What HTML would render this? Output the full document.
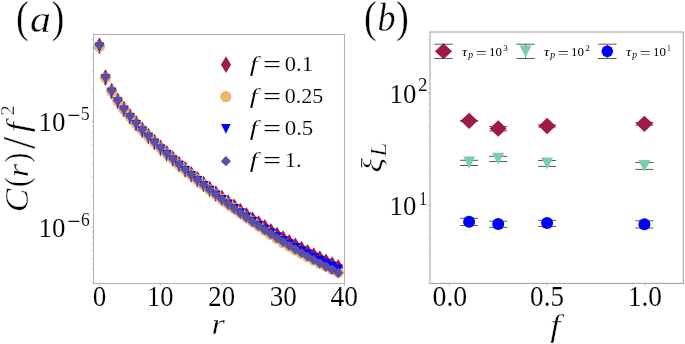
<!DOCTYPE html>
<html><head><meta charset="utf-8"><style>
html,body{margin:0;padding:0;background:#fff;}
svg{display:block;will-change:transform;}
text{font-family:"Liberation Serif",serif;fill:#000;stroke:#fff;stroke-width:0.12px;}
.i{font-style:italic;}
</style></head><body>
<svg width="685" height="344" viewBox="0 0 685 344">
<defs><clipPath id="ca"><rect x="93.5" y="34.5" width="251" height="249"/></clipPath>
<clipPath id="cb"><rect x="430.2" y="32" width="253" height="251.5"/></clipPath></defs>
<rect width="685" height="344" fill="#fff"/>
<!-- panel a -->
<g clip-path="url(#ca)"><path d="M99.40 37.40L104.50 45.80L99.40 54.20L94.30 45.80Z" fill="#9E1A4A"/><path d="M105.52 69.26L110.62 77.66L105.52 86.06L100.42 77.66Z" fill="#9E1A4A"/><path d="M111.65 82.66L116.75 91.06L111.65 99.46L106.55 91.06Z" fill="#9E1A4A"/><path d="M117.77 92.43L122.87 100.83L117.77 109.23L112.67 100.83Z" fill="#9E1A4A"/><path d="M123.90 100.70L129.00 109.10L123.90 117.50L118.80 109.10Z" fill="#9E1A4A"/><path d="M130.02 108.13L135.12 116.53L130.02 124.93L124.92 116.53Z" fill="#9E1A4A"/><path d="M136.14 115.01L141.24 123.41L136.14 131.81L131.04 123.41Z" fill="#9E1A4A"/><path d="M142.27 121.50L147.37 129.90L142.27 138.30L137.17 129.90Z" fill="#9E1A4A"/><path d="M148.39 127.70L153.49 136.10L148.39 144.50L143.29 136.10Z" fill="#9E1A4A"/><path d="M154.52 133.65L159.62 142.05L154.52 150.45L149.42 142.05Z" fill="#9E1A4A"/><path d="M160.64 139.41L165.74 147.81L160.64 156.21L155.54 147.81Z" fill="#9E1A4A"/><path d="M166.76 144.99L171.86 153.39L166.76 161.79L161.66 153.39Z" fill="#9E1A4A"/><path d="M172.89 150.43L177.99 158.83L172.89 167.23L167.79 158.83Z" fill="#9E1A4A"/><path d="M179.01 155.73L184.11 164.13L179.01 172.53L173.91 164.13Z" fill="#9E1A4A"/><path d="M185.14 160.90L190.24 169.30L185.14 177.70L180.04 169.30Z" fill="#9E1A4A"/><path d="M191.26 165.96L196.36 174.36L191.26 182.76L186.16 174.36Z" fill="#9E1A4A"/><path d="M197.38 170.92L202.48 179.32L197.38 187.72L192.28 179.32Z" fill="#9E1A4A"/><path d="M203.51 175.76L208.61 184.16L203.51 192.56L198.41 184.16Z" fill="#9E1A4A"/><path d="M209.63 180.51L214.73 188.91L209.63 197.31L204.53 188.91Z" fill="#9E1A4A"/><path d="M215.76 185.17L220.86 193.57L215.76 201.97L210.66 193.57Z" fill="#9E1A4A"/><path d="M221.88 189.72L226.98 198.12L221.88 206.52L216.78 198.12Z" fill="#9E1A4A"/><path d="M228.00 194.19L233.10 202.59L228.00 210.99L222.90 202.59Z" fill="#9E1A4A"/><path d="M234.13 198.57L239.23 206.97L234.13 215.37L229.03 206.97Z" fill="#9E1A4A"/><path d="M240.25 202.85L245.35 211.25L240.25 219.65L235.15 211.25Z" fill="#9E1A4A"/><path d="M246.38 207.05L251.48 215.45L246.38 223.85L241.28 215.45Z" fill="#9E1A4A"/><path d="M252.50 211.15L257.60 219.55L252.50 227.95L247.40 219.55Z" fill="#9E1A4A"/><path d="M258.62 215.17L263.72 223.57L258.62 231.97L253.52 223.57Z" fill="#9E1A4A"/><path d="M264.75 219.10L269.85 227.50L264.75 235.90L259.65 227.50Z" fill="#9E1A4A"/><path d="M270.87 222.94L275.97 231.34L270.87 239.74L265.77 231.34Z" fill="#9E1A4A"/><path d="M277.00 226.69L282.10 235.09L277.00 243.49L271.90 235.09Z" fill="#9E1A4A"/><path d="M283.12 230.35L288.22 238.75L283.12 247.15L278.02 238.75Z" fill="#9E1A4A"/><path d="M289.24 233.92L294.34 242.32L289.24 250.72L284.14 242.32Z" fill="#9E1A4A"/><path d="M295.37 237.39L300.47 245.79L295.37 254.19L290.27 245.79Z" fill="#9E1A4A"/><path d="M301.49 240.78L306.59 249.18L301.49 257.58L296.39 249.18Z" fill="#9E1A4A"/><path d="M307.62 244.07L312.72 252.47L307.62 260.87L302.52 252.47Z" fill="#9E1A4A"/><path d="M313.74 247.27L318.84 255.67L313.74 264.07L308.64 255.67Z" fill="#9E1A4A"/><path d="M319.86 250.37L324.96 258.77L319.86 267.17L314.76 258.77Z" fill="#9E1A4A"/><path d="M325.99 253.38L331.09 261.78L325.99 270.18L320.89 261.78Z" fill="#9E1A4A"/><path d="M332.11 256.29L337.21 264.69L332.11 273.09L327.01 264.69Z" fill="#9E1A4A"/><path d="M338.24 259.10L343.34 267.50L338.24 275.90L333.14 267.50Z" fill="#9E1A4A"/><circle cx="99.40" cy="46.50" r="5.60" fill="#EAB86C"/><circle cx="105.52" cy="77.77" r="5.60" fill="#EAB86C"/><circle cx="111.65" cy="91.17" r="5.60" fill="#EAB86C"/><circle cx="117.77" cy="100.94" r="5.60" fill="#EAB86C"/><circle cx="123.90" cy="109.21" r="5.60" fill="#EAB86C"/><circle cx="130.02" cy="116.64" r="5.60" fill="#EAB86C"/><circle cx="136.14" cy="123.52" r="5.60" fill="#EAB86C"/><circle cx="142.27" cy="130.02" r="5.60" fill="#EAB86C"/><circle cx="148.39" cy="136.21" r="5.60" fill="#EAB86C"/><circle cx="154.52" cy="142.17" r="5.60" fill="#EAB86C"/><circle cx="160.64" cy="147.92" r="5.60" fill="#EAB86C"/><circle cx="166.76" cy="153.58" r="5.60" fill="#EAB86C"/><circle cx="172.89" cy="159.09" r="5.60" fill="#EAB86C"/><circle cx="179.01" cy="164.46" r="5.60" fill="#EAB86C"/><circle cx="185.14" cy="169.71" r="5.60" fill="#EAB86C"/><circle cx="191.26" cy="174.84" r="5.60" fill="#EAB86C"/><circle cx="197.38" cy="179.91" r="5.60" fill="#EAB86C"/><circle cx="203.51" cy="184.87" r="5.60" fill="#EAB86C"/><circle cx="209.63" cy="189.73" r="5.60" fill="#EAB86C"/><circle cx="215.76" cy="194.50" r="5.60" fill="#EAB86C"/><circle cx="221.88" cy="199.17" r="5.60" fill="#EAB86C"/><circle cx="228.00" cy="203.83" r="5.60" fill="#EAB86C"/><circle cx="234.13" cy="208.40" r="5.60" fill="#EAB86C"/><circle cx="240.25" cy="212.87" r="5.60" fill="#EAB86C"/><circle cx="246.38" cy="217.26" r="5.60" fill="#EAB86C"/><circle cx="252.50" cy="221.55" r="5.60" fill="#EAB86C"/><circle cx="258.62" cy="225.96" r="5.60" fill="#EAB86C"/><circle cx="264.75" cy="230.27" r="5.60" fill="#EAB86C"/><circle cx="270.87" cy="234.50" r="5.60" fill="#EAB86C"/><circle cx="277.00" cy="238.63" r="5.60" fill="#EAB86C"/><circle cx="283.12" cy="242.68" r="5.60" fill="#EAB86C"/><circle cx="289.24" cy="246.34" r="5.60" fill="#EAB86C"/><circle cx="295.37" cy="249.92" r="5.60" fill="#EAB86C"/><circle cx="301.49" cy="253.40" r="5.60" fill="#EAB86C"/><circle cx="307.62" cy="256.79" r="5.60" fill="#EAB86C"/><circle cx="313.74" cy="260.08" r="5.60" fill="#EAB86C"/><circle cx="319.86" cy="263.28" r="5.60" fill="#EAB86C"/><circle cx="325.99" cy="266.38" r="5.60" fill="#EAB86C"/><circle cx="332.11" cy="269.39" r="5.60" fill="#EAB86C"/><circle cx="338.24" cy="272.30" r="5.60" fill="#EAB86C"/><path d="M94.60 42.40L104.20 42.40L99.40 52.00Z" fill="#0000FF"/><path d="M100.72 74.27L110.32 74.27L105.52 83.87Z" fill="#0000FF"/><path d="M106.85 87.67L116.45 87.67L111.65 97.27Z" fill="#0000FF"/><path d="M112.97 97.45L122.57 97.45L117.77 107.05Z" fill="#0000FF"/><path d="M119.10 105.73L128.70 105.73L123.90 115.33Z" fill="#0000FF"/><path d="M125.22 113.16L134.82 113.16L130.02 122.76Z" fill="#0000FF"/><path d="M131.34 120.05L140.94 120.05L136.14 129.65Z" fill="#0000FF"/><path d="M137.47 126.55L147.07 126.55L142.27 136.15Z" fill="#0000FF"/><path d="M143.59 132.75L153.19 132.75L148.39 142.35Z" fill="#0000FF"/><path d="M149.72 138.71L159.32 138.71L154.52 148.31Z" fill="#0000FF"/><path d="M155.84 144.47L165.44 144.47L160.64 154.07Z" fill="#0000FF"/><path d="M161.96 150.07L171.56 150.07L166.76 159.67Z" fill="#0000FF"/><path d="M168.09 155.51L177.69 155.51L172.89 165.11Z" fill="#0000FF"/><path d="M174.21 160.81L183.81 160.81L179.01 170.41Z" fill="#0000FF"/><path d="M180.34 166.00L189.94 166.00L185.14 175.60Z" fill="#0000FF"/><path d="M186.46 171.06L196.06 171.06L191.26 180.66Z" fill="#0000FF"/><path d="M192.58 176.07L202.18 176.07L197.38 185.67Z" fill="#0000FF"/><path d="M198.71 180.96L208.31 180.96L203.51 190.56Z" fill="#0000FF"/><path d="M204.83 185.76L214.43 185.76L209.63 195.36Z" fill="#0000FF"/><path d="M210.96 190.47L220.56 190.47L215.76 200.07Z" fill="#0000FF"/><path d="M217.08 195.07L226.68 195.07L221.88 204.67Z" fill="#0000FF"/><path d="M223.20 199.59L232.80 199.59L228.00 209.19Z" fill="#0000FF"/><path d="M229.33 204.02L238.93 204.02L234.13 213.62Z" fill="#0000FF"/><path d="M235.45 208.35L245.05 208.35L240.25 217.95Z" fill="#0000FF"/><path d="M241.58 212.60L251.18 212.60L246.38 222.20Z" fill="#0000FF"/><path d="M247.70 216.75L257.30 216.75L252.50 226.35Z" fill="#0000FF"/><path d="M253.82 220.76L263.42 220.76L258.62 230.36Z" fill="#0000FF"/><path d="M259.95 224.67L269.55 224.67L264.75 234.27Z" fill="#0000FF"/><path d="M266.07 228.50L275.67 228.50L270.87 238.10Z" fill="#0000FF"/><path d="M272.20 232.23L281.80 232.23L277.00 241.83Z" fill="#0000FF"/><path d="M278.32 235.88L287.92 235.88L283.12 245.48Z" fill="#0000FF"/><path d="M284.44 239.43L294.04 239.43L289.24 249.03Z" fill="#0000FF"/><path d="M290.57 242.89L300.17 242.89L295.37 252.49Z" fill="#0000FF"/><path d="M296.69 246.26L306.29 246.26L301.49 255.86Z" fill="#0000FF"/><path d="M302.82 249.54L312.42 249.54L307.62 259.14Z" fill="#0000FF"/><path d="M308.94 252.72L318.54 252.72L313.74 262.32Z" fill="#0000FF"/><path d="M315.06 255.81L324.66 255.81L319.86 265.41Z" fill="#0000FF"/><path d="M321.19 258.81L330.79 258.81L325.99 268.41Z" fill="#0000FF"/><path d="M327.31 261.70L336.91 261.70L332.11 271.30Z" fill="#0000FF"/><path d="M333.44 264.50L343.04 264.50L338.24 274.10Z" fill="#0000FF"/><path d="M99.40 39.93L104.50 45.03L99.40 50.13L94.30 45.03Z" fill="#5E4FA2"/><path d="M105.52 71.81L110.62 76.91L105.52 82.01L100.42 76.91Z" fill="#5E4FA2"/><path d="M111.65 85.24L116.75 90.34L111.65 95.44L106.55 90.34Z" fill="#5E4FA2"/><path d="M117.77 95.04L122.87 100.14L117.77 105.24L112.67 100.14Z" fill="#5E4FA2"/><path d="M123.90 103.35L129.00 108.45L123.90 113.55L118.80 108.45Z" fill="#5E4FA2"/><path d="M130.02 110.83L135.12 115.93L130.02 121.03L124.92 115.93Z" fill="#5E4FA2"/><path d="M136.14 117.77L141.24 122.87L136.14 127.97L131.04 122.87Z" fill="#5E4FA2"/><path d="M142.27 124.32L147.37 129.42L142.27 134.52L137.17 129.42Z" fill="#5E4FA2"/><path d="M148.39 130.58L153.49 135.68L148.39 140.78L143.29 135.68Z" fill="#5E4FA2"/><path d="M154.52 136.61L159.62 141.71L154.52 146.81L149.42 141.71Z" fill="#5E4FA2"/><path d="M160.64 142.45L165.74 147.55L160.64 152.65L155.54 147.55Z" fill="#5E4FA2"/><path d="M166.76 148.13L171.86 153.23L166.76 158.33L161.66 153.23Z" fill="#5E4FA2"/><path d="M172.89 153.66L177.99 158.76L172.89 163.86L167.79 158.76Z" fill="#5E4FA2"/><path d="M179.01 159.06L184.11 164.16L179.01 169.26L173.91 164.16Z" fill="#5E4FA2"/><path d="M185.14 164.35L190.24 169.45L185.14 174.55L180.04 169.45Z" fill="#5E4FA2"/><path d="M191.26 169.53L196.36 174.63L191.26 179.73L186.16 174.63Z" fill="#5E4FA2"/><path d="M197.38 174.64L202.48 179.74L197.38 184.84L192.28 179.74Z" fill="#5E4FA2"/><path d="M203.51 179.67L208.61 184.77L203.51 189.87L198.41 184.77Z" fill="#5E4FA2"/><path d="M209.63 184.60L214.73 189.70L209.63 194.80L204.53 189.70Z" fill="#5E4FA2"/><path d="M215.76 189.44L220.86 194.54L215.76 199.64L210.66 194.54Z" fill="#5E4FA2"/><path d="M221.88 194.19L226.98 199.29L221.88 204.39L216.78 199.29Z" fill="#5E4FA2"/><path d="M228.00 198.86L233.10 203.96L228.00 209.06L222.90 203.96Z" fill="#5E4FA2"/><path d="M234.13 203.44L239.23 208.54L234.13 213.64L229.03 208.54Z" fill="#5E4FA2"/><path d="M240.25 207.94L245.35 213.04L240.25 218.14L235.15 213.04Z" fill="#5E4FA2"/><path d="M246.38 212.36L251.48 217.46L246.38 222.56L241.28 217.46Z" fill="#5E4FA2"/><path d="M252.50 216.70L257.60 221.80L252.50 226.90L247.40 221.80Z" fill="#5E4FA2"/><path d="M258.62 220.89L263.72 225.99L258.62 231.09L253.52 225.99Z" fill="#5E4FA2"/><path d="M264.75 225.00L269.85 230.10L264.75 235.20L259.65 230.10Z" fill="#5E4FA2"/><path d="M270.87 229.02L275.97 234.12L270.87 239.22L265.77 234.12Z" fill="#5E4FA2"/><path d="M277.00 232.96L282.10 238.06L277.00 243.16L271.90 238.06Z" fill="#5E4FA2"/><path d="M283.12 236.82L288.22 241.92L283.12 247.02L278.02 241.92Z" fill="#5E4FA2"/><path d="M289.24 240.60L294.34 245.70L289.24 250.80L284.14 245.70Z" fill="#5E4FA2"/><path d="M295.37 244.29L300.47 249.39L295.37 254.49L290.27 249.39Z" fill="#5E4FA2"/><path d="M301.49 247.90L306.59 253.00L301.49 258.10L296.39 253.00Z" fill="#5E4FA2"/><path d="M307.62 251.42L312.72 256.52L307.62 261.62L302.52 256.52Z" fill="#5E4FA2"/><path d="M313.74 254.85L318.84 259.95L313.74 265.05L308.64 259.95Z" fill="#5E4FA2"/><path d="M319.86 258.19L324.96 263.29L319.86 268.39L314.76 263.29Z" fill="#5E4FA2"/><path d="M325.99 261.45L331.09 266.55L325.99 271.65L320.89 266.55Z" fill="#5E4FA2"/><path d="M332.11 264.61L337.21 269.71L332.11 274.81L327.01 269.71Z" fill="#5E4FA2"/><path d="M338.24 267.69L343.34 272.79L338.24 277.89L333.14 272.79Z" fill="#5E4FA2"/></g>
<rect x="93.5" y="34.5" width="251" height="249" fill="none" stroke="#b2b2b2" stroke-width="1.05"/>
<g stroke="#b8b8b8" stroke-width="0.9"><line x1="99.40" y1="284" x2="99.40" y2="285.8"/><line x1="160.64" y1="284" x2="160.64" y2="285.8"/><line x1="221.88" y1="284" x2="221.88" y2="285.8"/><line x1="283.12" y1="284" x2="283.12" y2="285.8"/><line x1="344.36" y1="284" x2="344.36" y2="285.8"/><line x1="92.00" y1="282.22" x2="93.2" y2="282.22"/><line x1="92.00" y1="269.02" x2="93.2" y2="269.02"/><line x1="92.00" y1="258.79" x2="93.2" y2="258.79"/><line x1="92.00" y1="250.43" x2="93.2" y2="250.43"/><line x1="92.00" y1="243.36" x2="93.2" y2="243.36"/><line x1="92.00" y1="237.23" x2="93.2" y2="237.23"/><line x1="92.00" y1="231.83" x2="93.2" y2="231.83"/><line x1="91.40" y1="227.00" x2="93.2" y2="227.00"/><line x1="92.00" y1="195.21" x2="93.2" y2="195.21"/><line x1="92.00" y1="176.62" x2="93.2" y2="176.62"/><line x1="92.00" y1="163.42" x2="93.2" y2="163.42"/><line x1="92.00" y1="153.19" x2="93.2" y2="153.19"/><line x1="92.00" y1="144.83" x2="93.2" y2="144.83"/><line x1="92.00" y1="137.76" x2="93.2" y2="137.76"/><line x1="92.00" y1="131.63" x2="93.2" y2="131.63"/><line x1="92.00" y1="126.23" x2="93.2" y2="126.23"/><line x1="91.40" y1="121.40" x2="93.2" y2="121.40"/><line x1="92.00" y1="89.61" x2="93.2" y2="89.61"/><line x1="92.00" y1="71.02" x2="93.2" y2="71.02"/><line x1="92.00" y1="57.82" x2="93.2" y2="57.82"/><line x1="92.00" y1="47.59" x2="93.2" y2="47.59"/><line x1="92.00" y1="39.23" x2="93.2" y2="39.23"/></g>
<path d="M226.00 56.30L231.10 64.70L226.00 73.10L220.90 64.70Z" fill="#9E1A4A"/><circle cx="225.80" cy="96.70" r="5.60" fill="#EAB86C"/><path d="M221.10 124.10L230.70 124.10L225.90 133.70Z" fill="#0000FF"/><path d="M225.90 156.05L231.00 161.15L225.90 166.25L220.80 161.15Z" fill="#5E4FA2"/>
<!-- panel b -->
<g clip-path="url(#cb)"><g stroke="#5a5a5a" stroke-width="1.0"><line x1="460.10" y1="120.60" x2="478.10" y2="120.60"/><line x1="460.10" y1="121.20" x2="478.10" y2="121.20"/><line x1="469.10" y1="120.60" x2="469.10" y2="121.20"/><line x1="460.10" y1="160.30" x2="478.10" y2="160.30"/><line x1="460.10" y1="165.50" x2="478.10" y2="165.50"/><line x1="469.10" y1="160.30" x2="469.10" y2="165.50"/><line x1="460.10" y1="218.30" x2="478.10" y2="218.30"/><line x1="460.10" y1="225.50" x2="478.10" y2="225.50"/><line x1="469.10" y1="218.30" x2="469.10" y2="225.50"/><line x1="489.20" y1="126.50" x2="507.20" y2="126.50"/><line x1="489.20" y1="130.90" x2="507.20" y2="130.90"/><line x1="498.20" y1="126.50" x2="498.20" y2="130.90"/><line x1="489.20" y1="156.30" x2="507.20" y2="156.30"/><line x1="489.20" y1="161.50" x2="507.20" y2="161.50"/><line x1="498.20" y1="156.30" x2="498.20" y2="161.50"/><line x1="489.20" y1="221.20" x2="507.20" y2="221.20"/><line x1="489.20" y1="227.30" x2="507.20" y2="227.30"/><line x1="498.20" y1="221.20" x2="498.20" y2="227.30"/><line x1="538.10" y1="124.80" x2="556.10" y2="124.80"/><line x1="538.10" y1="127.00" x2="556.10" y2="127.00"/><line x1="547.10" y1="124.80" x2="547.10" y2="127.00"/><line x1="538.10" y1="160.50" x2="556.10" y2="160.50"/><line x1="538.10" y1="166.40" x2="556.10" y2="166.40"/><line x1="547.10" y1="160.50" x2="547.10" y2="166.40"/><line x1="538.10" y1="220.30" x2="556.10" y2="220.30"/><line x1="538.10" y1="226.40" x2="556.10" y2="226.40"/><line x1="547.10" y1="220.30" x2="547.10" y2="226.40"/><line x1="635.40" y1="122.40" x2="653.40" y2="122.40"/><line x1="635.40" y1="125.00" x2="653.40" y2="125.00"/><line x1="644.40" y1="122.40" x2="644.40" y2="125.00"/><line x1="635.40" y1="162.50" x2="653.40" y2="162.50"/><line x1="635.40" y1="169.40" x2="653.40" y2="169.40"/><line x1="644.40" y1="162.50" x2="644.40" y2="169.40"/><line x1="635.40" y1="220.80" x2="653.40" y2="220.80"/><line x1="635.40" y1="228.00" x2="653.40" y2="228.00"/><line x1="644.40" y1="220.80" x2="644.40" y2="228.00"/></g><path d="M469.10 112.65L477.60 120.85L469.10 129.05L460.60 120.85Z" fill="#9E1A4A"/><path d="M498.20 120.35L506.70 128.55L498.20 136.75L489.70 128.55Z" fill="#9E1A4A"/><path d="M547.10 117.80L555.60 126.00L547.10 134.20L538.60 126.00Z" fill="#9E1A4A"/><path d="M644.40 115.65L652.90 123.85L644.40 132.05L635.90 123.85Z" fill="#9E1A4A"/><path d="M463.10 156.50L475.10 156.50L469.10 168.50Z" fill="#78CFA8"/><path d="M492.20 152.80L504.20 152.80L498.20 164.80Z" fill="#78CFA8"/><path d="M541.10 157.50L553.10 157.50L547.10 169.50Z" fill="#78CFA8"/><path d="M638.40 159.90L650.40 159.90L644.40 171.90Z" fill="#78CFA8"/><circle cx="469.10" cy="221.80" r="6.00" fill="#0000FF"/><circle cx="498.20" cy="223.90" r="6.00" fill="#0000FF"/><circle cx="547.10" cy="223.00" r="6.00" fill="#0000FF"/><circle cx="644.40" cy="224.30" r="6.00" fill="#0000FF"/></g>
<g stroke="#5a5a5a" stroke-width="1.0"><line x1="434.30" y1="44.20" x2="452.70" y2="44.20"/><line x1="434.30" y1="58.50" x2="452.70" y2="58.50"/><line x1="443.50" y1="44.20" x2="443.50" y2="58.50"/><line x1="516.40" y1="44.20" x2="534.80" y2="44.20"/><line x1="516.40" y1="58.50" x2="534.80" y2="58.50"/><line x1="525.60" y1="44.20" x2="525.60" y2="58.50"/><line x1="598.10" y1="44.20" x2="616.50" y2="44.20"/><line x1="598.10" y1="58.50" x2="616.50" y2="58.50"/><line x1="607.30" y1="44.20" x2="607.30" y2="58.50"/></g><path d="M443.50 43.30L452.10 51.30L443.50 59.30L434.90 51.30Z" fill="#9E1A4A"/><path d="M519.60 45.60L531.60 45.60L525.60 57.60Z" fill="#78CFA8"/><circle cx="607.30" cy="51.30" r="5.80" fill="#0000FF"/>
<rect x="430" y="32" width="253.3" height="251.4" fill="none" stroke="#a2a2a2" stroke-width="1.05"/>
<g stroke="#b8b8b8" stroke-width="0.9"><line x1="449.50" y1="284" x2="449.50" y2="285.8"/><line x1="547.20" y1="284" x2="547.20" y2="285.8"/><line x1="644.90" y1="284" x2="644.90" y2="285.8"/><line x1="428.50" y1="283.41" x2="429.7" y2="283.41"/><line x1="428.50" y1="263.71" x2="429.7" y2="263.71"/><line x1="428.50" y1="249.73" x2="429.7" y2="249.73"/><line x1="428.50" y1="238.89" x2="429.7" y2="238.89"/><line x1="428.50" y1="230.02" x2="429.7" y2="230.02"/><line x1="428.50" y1="222.53" x2="429.7" y2="222.53"/><line x1="428.50" y1="216.04" x2="429.7" y2="216.04"/><line x1="428.50" y1="210.32" x2="429.7" y2="210.32"/><line x1="427.90" y1="205.20" x2="429.7" y2="205.20"/><line x1="428.50" y1="171.51" x2="429.7" y2="171.51"/><line x1="428.50" y1="151.81" x2="429.7" y2="151.81"/><line x1="428.50" y1="137.83" x2="429.7" y2="137.83"/><line x1="428.50" y1="126.99" x2="429.7" y2="126.99"/><line x1="428.50" y1="118.12" x2="429.7" y2="118.12"/><line x1="428.50" y1="110.63" x2="429.7" y2="110.63"/><line x1="428.50" y1="104.14" x2="429.7" y2="104.14"/><line x1="428.50" y1="98.42" x2="429.7" y2="98.42"/><line x1="427.90" y1="93.30" x2="429.7" y2="93.30"/><line x1="428.50" y1="59.61" x2="429.7" y2="59.61"/><line x1="428.50" y1="39.91" x2="429.7" y2="39.91"/></g>
<text transform="translate(16.09,32.09) scale(0.850,1)" font-size="44.45" style="stroke-width:0.35px">(</text>
<text class="i" transform="translate(29.90,31.75) scale(1.082,1)" font-size="38.67" style="stroke-width:0.35px">a</text>
<text transform="translate(51.63,32.09) scale(0.850,1)" font-size="44.45" style="stroke-width:0.35px">)</text>
<text transform="translate(363.89,32.09) scale(0.850,1)" font-size="44.45" style="stroke-width:0.35px">(</text>
<text class="i" transform="translate(377.61,31.16) scale(0.913,1)" font-size="39.51" style="stroke-width:0.35px">b</text>
<text transform="translate(396.13,32.09) scale(0.850,1)" font-size="44.45" style="stroke-width:0.35px">)</text>
<text transform="translate(92.72,305.97) scale(0.934,1)" font-size="29.05">0</text>
<text transform="translate(146.93,305.97) scale(0.910,1)" font-size="29.05">10</text>
<text transform="translate(208.37,305.97) scale(0.923,1)" font-size="29.05">20</text>
<text transform="translate(269.66,305.97) scale(0.930,1)" font-size="29.05">30</text>
<text transform="translate(330.62,305.97) scale(0.943,1)" font-size="29.05">40</text>
<text transform="translate(432.49,305.84) scale(0.965,1)" font-size="28.86">0.0</text>
<text transform="translate(530.12,305.84) scale(0.940,1)" font-size="28.86">0.5</text>
<text transform="translate(627.74,305.84) scale(0.950,1)" font-size="28.86">1.0</text>
<text transform="translate(38.49,130.98) scale(0.955,1)" font-size="28.16">10</text>
<text transform="translate(67.22,122.75)" font-size="23.64">−</text>
<text transform="translate(80.81,120.16) scale(0.914,1)" font-size="19.56" style="stroke-width:0.11px">5</text>
<text transform="translate(38.49,236.98) scale(0.955,1)" font-size="28.16">10</text>
<text transform="translate(67.22,228.75)" font-size="23.64">−</text>
<text transform="translate(81.00,226.16) scale(0.907,1)" font-size="19.35" style="stroke-width:0.10px">6</text>
<text transform="translate(389.60,102.78) scale(0.971,1)" font-size="27.56">10</text>
<text transform="translate(418.12,91.45) scale(1.064,1)" font-size="17.82" style="stroke-width:0.07px">2</text>
<text transform="translate(389.60,215.09) scale(0.987,1)" font-size="27.12">10</text>
<text transform="translate(418.75,204.65) scale(0.915,1)" font-size="18.63" style="stroke-width:0.09px">1</text>
<text class="i" transform="translate(211.46,334.35) scale(1.150,1)" font-size="29.92" style="stroke-width:0.35px">r</text>
<text class="i" transform="translate(550.20,335.56) scale(1.150,1)" font-size="31.41" style="stroke-width:0.35px">f</text>
<text class="i" transform="translate(28.24,212.21) rotate(-90) scale(1.044,1)" font-size="33.81" style="stroke-width:0.35px">C</text>
<text transform="translate(28.38,186.92) rotate(-90) scale(0.850,1)" font-size="34.63" style="stroke-width:0.35px">(</text>
<text class="i" transform="translate(28.25,177.19) rotate(-90) scale(1.150,1)" font-size="29.71" style="stroke-width:0.35px">r</text>
<text transform="translate(28.38,162.58) rotate(-90) scale(0.850,1)" font-size="34.63" style="stroke-width:0.35px">)</text>
<text transform="translate(35.39,149.05) rotate(-90) scale(0.941,1)" font-size="46.64" style="stroke-width:0.35px">/</text>
<text class="i" transform="translate(27.94,132.23) rotate(-90) scale(1.150,1)" font-size="31.52" style="stroke-width:0.35px">f</text>
<text transform="translate(13.55,115.45) rotate(-90) scale(1.148,1)" font-size="17.82" style="stroke-width:0.35px">2</text>
<text class="i" transform="translate(381.57,172.55) rotate(-90) scale(1.150,1)" font-size="29.37" style="stroke-width:0.35px">ξ</text>
<text class="i" transform="translate(386.15,156.87) rotate(-90) scale(1.150,1)" font-size="22.30" style="stroke-width:0.35px">L</text>
<text class="i" transform="translate(249.77,70.53) scale(1.300,1)" font-size="21.70">f</text>
<text transform="translate(263.01,72.29) scale(1.429,1)" font-size="22.40" style="stroke-width:0.20px">=</text>
<text transform="translate(284.79,71.05) scale(1.061,1)" font-size="21.28">0.1</text>
<text class="i" transform="translate(249.77,102.53) scale(1.300,1)" font-size="21.70">f</text>
<text transform="translate(263.01,104.29) scale(1.429,1)" font-size="22.40" style="stroke-width:0.20px">=</text>
<text transform="translate(284.71,103.05) scale(1.037,1)" font-size="21.28">0.25</text>
<text class="i" transform="translate(249.77,134.53) scale(1.300,1)" font-size="21.70">f</text>
<text transform="translate(263.01,136.29) scale(1.429,1)" font-size="22.40" style="stroke-width:0.20px">=</text>
<text transform="translate(284.68,135.05) scale(1.078,1)" font-size="21.28">0.5</text>
<text class="i" transform="translate(249.77,166.53) scale(1.300,1)" font-size="21.70">f</text>
<text transform="translate(263.01,168.29) scale(1.429,1)" font-size="22.40" style="stroke-width:0.20px">=</text>
<text transform="translate(284.76,167.05) scale(1.083,1)" font-size="20.91">1.</text>
<text class="i" transform="translate(461.88,55.77) scale(1.133,1)" font-size="13.01" style="stroke-width:0.00px">τ</text>
<text class="i" transform="translate(468.17,57.65) scale(0.957,1)" font-size="10.09" style="stroke-width:0.00px">p</text>
<text transform="translate(475.63,57.52) scale(1.438,1)" font-size="13.60" style="stroke-width:0.00px">=</text>
<text transform="translate(489.06,56.17) scale(0.980,1)" font-size="13.19" style="stroke-width:0.00px">10</text>
<text transform="translate(503.19,50.62) scale(1.150,1)" font-size="7.89" style="stroke-width:0.00px">3</text>
<text class="i" transform="translate(543.88,55.77) scale(1.133,1)" font-size="13.01" style="stroke-width:0.00px">τ</text>
<text class="i" transform="translate(550.17,57.65) scale(0.957,1)" font-size="10.09" style="stroke-width:0.00px">p</text>
<text transform="translate(557.63,57.52) scale(1.438,1)" font-size="13.60" style="stroke-width:0.00px">=</text>
<text transform="translate(571.06,56.17) scale(0.980,1)" font-size="13.19" style="stroke-width:0.00px">10</text>
<text transform="translate(585.25,50.70) scale(1.150,1)" font-size="8.00" style="stroke-width:0.00px">2</text>
<text class="i" transform="translate(625.88,55.77) scale(1.133,1)" font-size="13.01" style="stroke-width:0.00px">τ</text>
<text class="i" transform="translate(632.17,57.65) scale(0.957,1)" font-size="10.09" style="stroke-width:0.00px">p</text>
<text transform="translate(639.63,57.52) scale(1.438,1)" font-size="13.60" style="stroke-width:0.00px">=</text>
<text transform="translate(653.06,56.17) scale(0.980,1)" font-size="13.19" style="stroke-width:0.00px">10</text>
<text transform="translate(667.15,50.70) scale(0.850,1)" font-size="8.03" style="stroke-width:0.00px">1</text>
</svg>
</body></html>
